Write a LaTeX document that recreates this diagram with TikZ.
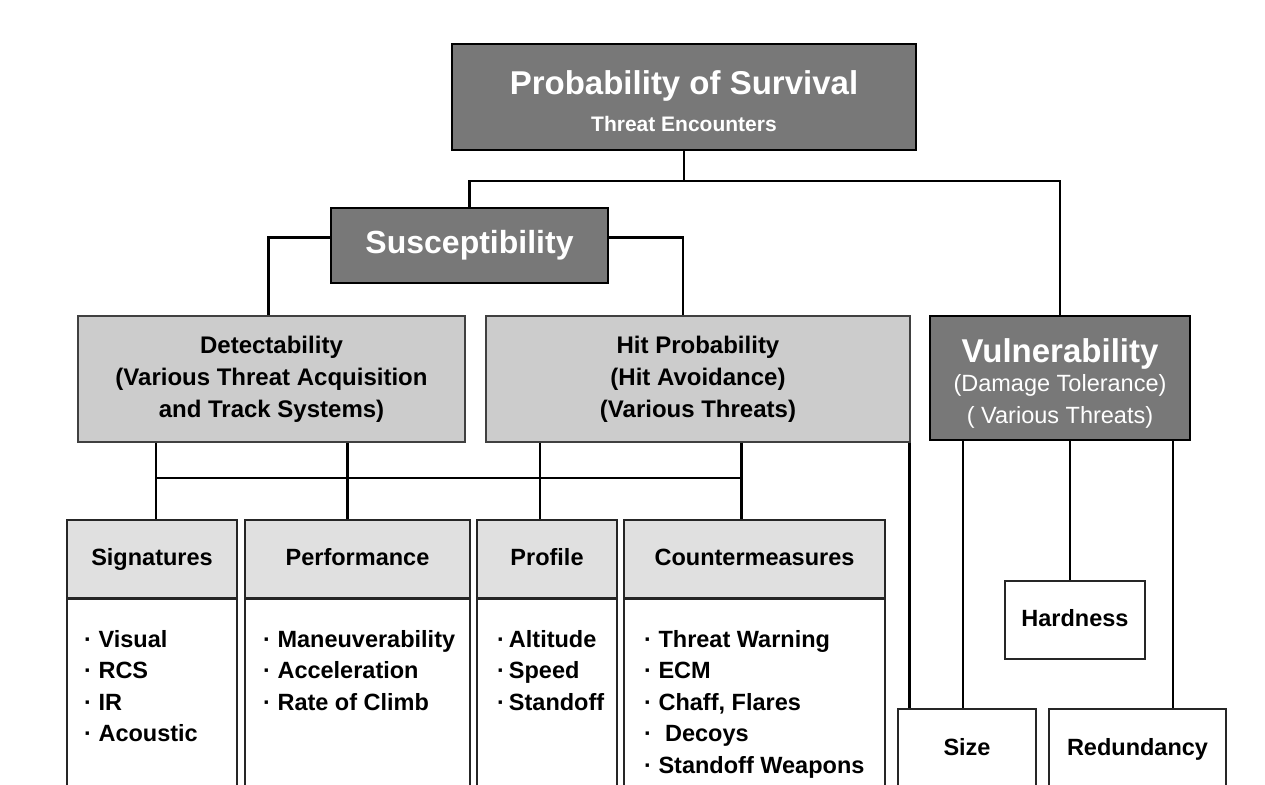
\documentclass[tikz,border=0pt]{standalone}
\usepackage{fontspec}
\setmainfont{Liberation Sans}
\definecolor{darkfill}{gray}{0.47}
\definecolor{lightfill}{gray}{0.80}
\definecolor{hdrfill}{gray}{0.88}
\begin{document}
\begin{tikzpicture}[x=1pt,y=-1pt,
  dark/.style={draw=black, line width=1.8pt, fill=darkfill, text=white, inner sep=0pt, align=center},
  light/.style={draw=black!75, line width=1.2pt, fill=lightfill, inner sep=0pt, align=center,
     font=\bfseries\fontsize{24}{32}\selectfont},
  hdr/.style={draw=black!85, line width=1.5pt, fill=hdrfill, inner sep=0pt, minimum height=78pt,
     text height=17pt, text depth=5pt, font=\bfseries\fontsize{23.5}{26}\selectfont},
  body/.style={draw=black!85, line width=1.5pt, fill=white, inner sep=0pt, anchor=north, minimum height=210pt},
  plain/.style={draw=black!85, line width=1.5pt, fill=white, inner sep=0pt,
     text height=17pt, text depth=5pt, font=\bfseries\fontsize{23.5}{26}\selectfont},
  conn/.style={line width=2.4pt, black},
  items/.style={anchor=north west, align=left, inner sep=0pt, font=\bfseries\fontsize{23.5}{31.5}\selectfont}]
\clip (0,0) rectangle (1265,784);
\fill[white] (0,0) rectangle (1265,784);

% top levels
\node[dark, minimum width=464pt, minimum height=106pt, font=\bfseries\fontsize{21}{37}\selectfont] (ps) at (684,97)
  {\rule{0pt}{32pt}{\fontsize{33}{36}\selectfont Probability of Survival}\\
   Threat Encounters};
\node[dark, minimum width=277pt, minimum height=75pt, font=\bfseries\fontsize{32}{36}\selectfont] (sus) at (469.5,245.5) {Susceptibility};
\node[light, minimum width=387pt, minimum height=126pt] (det) at (271.5,379)
  {Detectability\\(Various Threat Acquisition\\and Track Systems)};
\node[light, minimum width=424pt, minimum height=126pt] (hit) at (698,379)
  {Hit Probability\\(Hit Avoidance)\\(Various Threats)};
\node[dark, minimum width=260pt, minimum height=124pt, font=\fontsize{23.5}{32}\selectfont] (vul) at (1060,378)
  {\rule{0pt}{35pt}{\bfseries\fontsize{33}{34}\selectfont Vulnerability}\\[-3pt]
   (Damage Tolerance)\\
   ( Various Threats)};

% bottom boxes
\node[hdr, minimum width=170pt] (sig) at (152,559) {Signatures};
\node[body, minimum width=170pt] (sigb) at (sig.south) {};
\node[hdr, minimum width=225pt] (perf) at (357.5,559) {Performance};
\node[body, minimum width=225pt] (perfb) at (perf.south) {};
\node[hdr, minimum width=140pt] (prof) at (547,559) {Profile};
\node[body, minimum width=140pt] (profb) at (prof.south) {};
\node[hdr, minimum width=261pt] (cm) at (754.5,559) {Countermeasures};
\node[body, minimum width=261pt] (cmb) at (cm.south) {};

\node[items] (sigl) at (84,630) {·\ Visual\\·\ RCS\\·\ IR\\·\ Acoustic};
\node[items] (perfl) at (263,630) {·\ Maneuverability\\·\ Acceleration\\·\ Rate of Climb};
\node[items] (profl) at (497,630) {·\,Altitude\\·\,Speed\\·\,Standoff};
\node[items] (cml) at (644,630) {·\ Threat Warning\\·\ ECM\\·\ Chaff, Flares\\·\ \ Decoys\\·\ Standoff Weapons};

\node[plain, minimum width=140pt, minimum height=78pt] (hard) at (1075,620) {Hardness};
\node[plain, minimum width=138pt, minimum height=82pt, anchor=north] (size) at (967,708) {Size};
\node[plain, minimum width=177pt, minimum height=82pt, anchor=north] (red) at (1137.5,708) {Redundancy};

% connectors
\draw[conn] (ps.south) -- ++(0,30) coordinate (tj);
\draw[conn] (tj) -| (sus.north);
\draw[conn] (tj) -| (vul.north);
\draw[conn] ([yshift=8pt]sus.west) -| ([xshift=-3pt]det.north);
\draw[conn] ([yshift=8pt]sus.east) -| ([xshift=-15pt]hit.north);

\coordinate (d1) at ([xshift=4pt]sig.north |- det.south);
\coordinate (d2) at ([xshift=-10pt]perf.north |- det.south);
\coordinate (h1) at ([xshift=-7pt]prof.north |- hit.south);
\coordinate (h2) at ([xshift=-13pt]cm.north |- hit.south);
\draw[conn] (d1) -- ([xshift=4pt]sig.north);
\draw[conn] (d2) -- ([xshift=-10pt]perf.north);
\draw[conn] (h1) -- ([xshift=-7pt]prof.north);
\draw[conn] (h2) -- ([xshift=-13pt]cm.north);
\coordinate (bus) at (0,478);
\draw[conn] (d1 |- bus) -- (h2 |- bus);

\draw[conn] ([xshift=-1pt]hit.south east) -- ([xshift=-1pt]hit.south east |- size.north);
\draw[conn] ([xshift=-4pt]size.north |- vul.south) -- ([xshift=-4pt]size.north);
\draw[conn] ([xshift=-5pt]hard.north |- vul.south) -- ([xshift=-5pt]hard.north);
\draw[conn] ([xshift=35.5pt]red.north |- vul.south) -- ([xshift=35.5pt]red.north);
\end{tikzpicture}
\end{document}
